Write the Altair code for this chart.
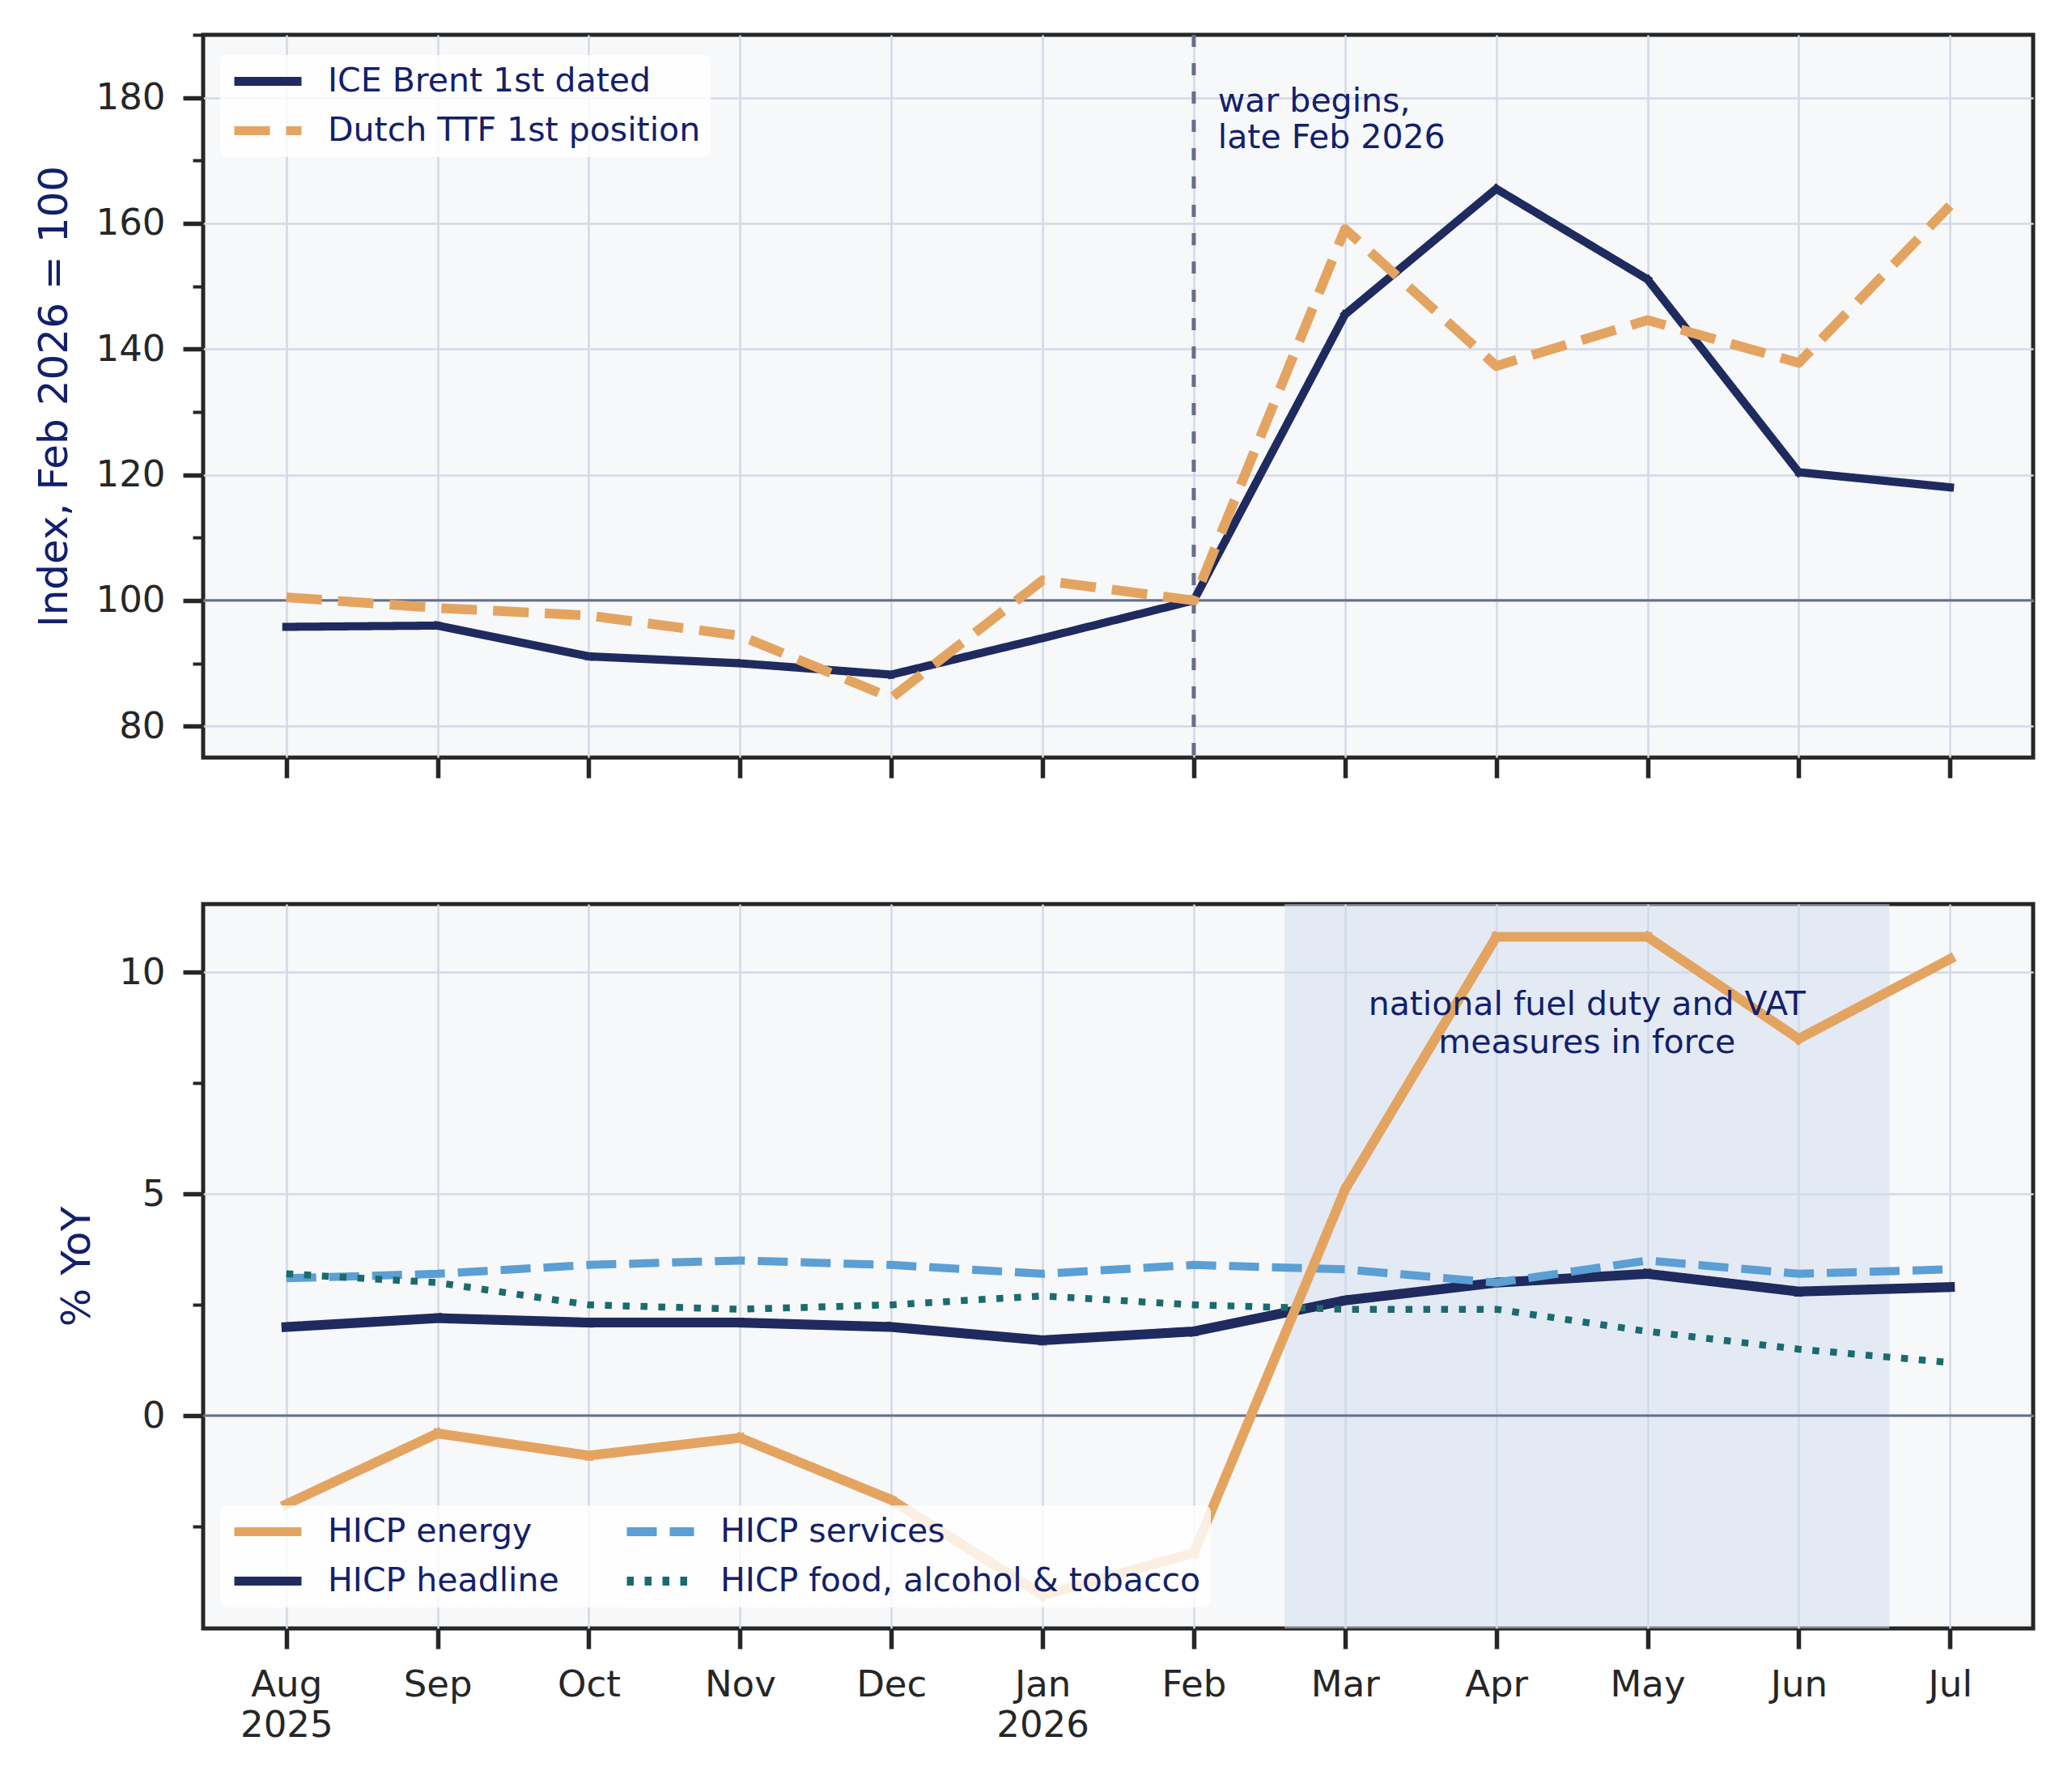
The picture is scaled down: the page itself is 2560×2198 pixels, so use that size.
import altair as alt
import pandas as pd

# ---------------- data ----------------
month_labels = ["Aug", "Sep", "Oct", "Nov", "Dec", "Jan", "Feb", "Mar", "Apr", "May", "Jun", "Jul"]
year_labels = ["2025", "", "", "", "", "2026", "", "", "", "", "", ""]
month_idx = list(range(12))

brent = [95.8, 96.0, 91.1, 90.0, 88.2, 94.0, 100.0, 145.5, 165.5, 151.1, 120.4, 118.0]
ttf = [100.5, 98.8, 97.6, 94.4, 84.5, 103.2, 100.0, 159.1, 137.3, 144.6, 137.8, 162.8]

hicp_energy = [-2.0, -0.4, -0.9, -0.5, -1.9, -4.05, -3.1, 5.1, 10.8, 10.8, 8.5, 10.3]
hicp_headline = [2.0, 2.2, 2.1, 2.1, 2.0, 1.7, 1.9, 2.6, 3.0, 3.2, 2.8, 2.9]
hicp_services = [3.1, 3.2, 3.4, 3.5, 3.4, 3.2, 3.4, 3.3, 3.0, 3.5, 3.2, 3.3]
hicp_food = [3.2, 3.0, 2.5, 2.4, 2.5, 2.7, 2.5, 2.4, 2.4, 1.9, 1.5, 1.2]

top_names = ["ICE Brent 1st dated", "Dutch TTF 1st position"]
# legend order (column-major, 2 columns)
bottom_names = ["HICP energy", "HICP headline", "HICP services", "HICP food, alcohol & tobacco"]

top_ref = [100]
bottom_ref = [0]
war_month = [6]
shade_start = [6.6]
shade_end = [10.6]

war_text = [["war begins,", "late Feb 2026"]]
war_text_x = [6.16]
war_text_y = [177.8]
measures_text = [["national fuel duty and VAT", "measures in force"]]
measures_text_x = [8.6]
measures_text_y = [9.03]

# ---------------- styles ----------------
NAVY = "#1f2a5e"
ORANGE = "#e4a461"
BLUE = "#5b9fd4"
TEAL = "#1b6b6e"
TEXT = "#13206b"
REF = "#646f8a"
INK = "#262626"

W = 2261
H_TOP = 893
H_BOT = 895

top_df = pd.DataFrame({
    "m": month_idx * 2,
    "series": [top_names[0]] * 12 + [top_names[1]] * 12,
    "value": brent + ttf,
})
bot_df = pd.DataFrame({
    "m": month_idx * 4,
    "series": ["HICP energy"] * 12 + ["HICP headline"] * 12 + ["HICP services"] * 12
    + ["HICP food, alcohol & tobacco"] * 12,
    "value": hicp_energy + hicp_headline + hicp_services + hicp_food,
})

xscale = alt.Scale(domain=[-0.55, 11.55], nice=False, zero=False)


def label_expr():
    parts = []
    for m, y in zip(month_labels, year_labels):
        items = [m] + ([y] if y else [])
        parts.append("[" + ",".join("'" + s + "'" for s in items) + "]")
    return "[" + ",".join(parts) + "][datum.value]"


def x_enc(field, show_labels):
    if show_labels:
        ax = alt.Axis(values=month_idx, title=None, grid=True, domain=False,
                      tickSize=25, tickWidth=5.5, labelExpr=label_expr(),
                      labelFontSize=45, labelLineHeight=50, labelPadding=22,
                      labelBaseline="top")
    else:
        ax = alt.Axis(values=month_idx, title=None, grid=True, domain=False,
                      tickSize=25, tickWidth=5.5, labels=False)
    return alt.X(field, scale=xscale, axis=ax)


def y_enc(field, domain, values, major_test, title):
    ax = alt.Axis(
        values=values,
        title=title,
        domain=False,
        labelExpr="(" + major_test + ") ? datum.label : ''",
        tickSize={"condition": {"test": major_test, "value": 25}, "value": 13},
        tickWidth={"condition": {"test": major_test, "value": 5.5}, "value": 4},
        gridOpacity={"condition": {"test": major_test, "value": 1}, "value": 0},
        labelFontSize=45,
        labelPadding=22,
        titlePadding=26,
        titleFontSize=50,
    )
    return alt.Y(field, scale=alt.Scale(domain=domain, nice=False, zero=False), axis=ax)


def legend(x, y, cols, colpad):
    return alt.Legend(title=None, orient="none", legendX=x, legendY=y, columns=cols,
                      columnPadding=colpad, zindex=1)


# ---------------- top panel ----------------
ytop = lambda f: y_enc(f, [75, 190], list(range(80, 191, 10)), "datum.value % 20 == 0",
                       "Index, Feb 2026 = 100")
top_leg = legend(21, 25, 1, 10)
top_color = alt.Color("series:N", scale=alt.Scale(domain=top_names, range=[NAVY, ORANGE]), legend=top_leg)
top_dash = alt.StrokeDash("series:N", scale=alt.Scale(domain=top_names, range=[[1, 0], [44, 20]]),
                          legend=top_leg)

ref_t = alt.Chart(pd.DataFrame({"v": top_ref})).mark_rule(color=REF, strokeWidth=3).encode(
    y=ytop("v:Q"))
war = alt.Chart(pd.DataFrame({"wx": war_month})).mark_rule(
    color=REF, strokeWidth=5, strokeDash=[15, 20]).encode(x=x_enc("wx:Q", False))

top_widths = {top_names[0]: 10, top_names[1]: 12}
top_caps = {top_names[0]: "square", top_names[1]: "butt"}
top_lines = []
for name in top_names:
    top_lines.append(
        alt.Chart(top_df).transform_filter(alt.datum.series == name)
        .mark_line(strokeWidth=top_widths[name], strokeJoin="round", strokeCap=top_caps[name])
        .encode(x=x_enc("m:Q", False), y=ytop("value:Q"), color=top_color, strokeDash=top_dash)
    )

war_lbl = alt.Chart(pd.DataFrame({"tx": war_text_x, "ty": war_text_y, "t": war_text})).mark_text(
    align="left", baseline="alphabetic", fontSize=41, lineHeight=45, color=TEXT
).encode(x=x_enc("tx:Q", False), y=ytop("ty:Q"), text="t")

top = alt.layer(ref_t, war, *top_lines, war_lbl).properties(width=W, height=H_TOP)

# ---------------- bottom panel ----------------
ybot = lambda f: y_enc(f, [-4.8, 11.54], [-2.5, 0, 2.5, 5, 7.5, 10], "datum.value % 5 == 0", "% YoY")
bot_leg = legend(21, 743, 2, 78)
bot_style = {
    "HICP energy": (ORANGE, [1, 0], 12, "square"),
    "HICP headline": (NAVY, [1, 0], 12, "square"),
    "HICP services": (BLUE, [37, 16], 10, "butt"),
    "HICP food, alcohol & tobacco": (TEAL, [8.5, 13.5], 8.5, "butt"),
}
bot_color = alt.Color("series:N", scale=alt.Scale(domain=bottom_names,
                                                  range=[bot_style[n][0] for n in bottom_names]),
                      legend=bot_leg)
bot_dash = alt.StrokeDash("series:N", scale=alt.Scale(domain=bottom_names,
                                                      range=[bot_style[n][1] for n in bottom_names]),
                          legend=bot_leg)

shade = alt.Chart(pd.DataFrame({"s": shade_start, "e": shade_end})).mark_rect(
    color="#d2dcee", opacity=0.5).encode(x=x_enc("s:Q", True), x2="e:Q")
ref_b = alt.Chart(pd.DataFrame({"v": bottom_ref})).mark_rule(color=REF, strokeWidth=3).encode(
    y=ybot("v:Q"))

draw_order = ["HICP headline", "HICP services", "HICP food, alcohol & tobacco", "HICP energy"]
bot_lines = []
for name in draw_order:
    bot_lines.append(
        alt.Chart(bot_df).transform_filter(alt.datum.series == name)
        .mark_line(strokeWidth=bot_style[name][2], strokeJoin="round", strokeCap=bot_style[name][3])
        .encode(x=x_enc("m:Q", True), y=ybot("value:Q"), color=bot_color, strokeDash=bot_dash)
    )

meas_lbl = alt.Chart(pd.DataFrame({"tx": measures_text_x, "ty": measures_text_y, "t": measures_text})).mark_text(
    align="center", baseline="alphabetic", fontSize=41, lineHeight=47, color=TEXT
).encode(x=x_enc("tx:Q", True), y=ybot("ty:Q"), text="t")

bottom = alt.layer(shade, ref_b, *bot_lines, meas_lbl).properties(width=W, height=H_BOT)

chart = (
    alt.vconcat(top, bottom, spacing=147)
    .resolve_scale(color="independent", strokeDash="independent", x="independent", y="independent")
    .properties(padding={"left": 31, "top": 30, "right": 10, "bottom": 10}, background="white")
    .configure(font="DejaVu Sans")
    .configure_view(fill="#f7f8fa", stroke=INK, strokeWidth=5)
    .configure_axis(gridColor="#d3d9e6", gridWidth=2.5, tickColor=INK, labelColor=INK,
                    titleColor=TEXT, titleFontWeight="normal", labelFont="DejaVu Sans",
                    titleFont="DejaVu Sans")
    .configure_legend(labelFont="DejaVu Sans", labelFontSize=41, labelColor=TEXT, labelLimit=2000,
                      symbolType="stroke", symbolSize=6889, symbolStrokeWidth=11, clipHeight=41,
                      padding=12, rowPadding=19, labelOffset=27, symbolOffset=0,
                      fillColor="rgba(255,255,255,0.82)", cornerRadius=8)
)

chart.save("out.html", embed_options={"renderer": "svg", "actions": False})
